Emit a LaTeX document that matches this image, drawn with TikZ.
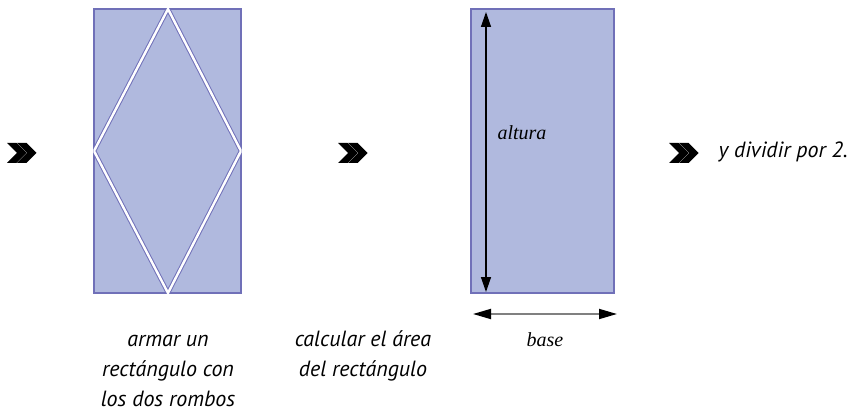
\documentclass[tikz,border=0pt]{standalone}
\usepackage{fontspec}
\setmainfont{Liberation Serif}
\newfontfamily\gillfont{PT Sans}
\usetikzlibrary{arrows.meta,calc}
\definecolor{rectfill}{RGB}{176,185,222}
\definecolor{rectedge}{RGB}{112,112,184}

\tikzset{
    panel/.style={fill=rectfill, draw=rectedge, line width=1.2pt},
    seam/.style={draw=rectedge, line width=1pt, double=white, double distance=2.4pt},
    caption/.style={font=\gillfont\itshape\fontsize{22}{30}\selectfont, align=center},
    hand/.style={font=\itshape\fontsize{20}{24}\selectfont},
    measure/.style={line width=1.4pt, {Triangle[length=15pt,width=10pt]}-{Triangle[length=15pt,width=10pt]}},
}

\begin{document}
\begin{tikzpicture}[x=1pt,y=-1pt]
    \useasboundingbox (0,0) rectangle (855,417);

    % rectangle cut into the rhombus pieces
    \coordinate (A) at (94,9);
    \coordinate (B) at (241,293);
    \coordinate (T) at (168,9);
    \coordinate (L) at (94,151);
    \coordinate (R) at (241,151);
    \coordinate (D) at (168,293);

    \draw[panel] (A) rectangle (B);
    \begin{scope}
        \clip ($(A)+(-0.6,-0.6)$) rectangle ($(B)+(0.6,0.6)$);
        \draw[seam] (T) -- (R) -- (D) -- (L) -- cycle;
    \end{scope}

    % rectangle with its measures
    \coordinate (P) at (471,9);
    \coordinate (Q) at (614,293);
    \coordinate (Htop) at (486,12);
    \coordinate (Hbot) at (486,292);
    \coordinate (Bl) at (473,314);
    \coordinate (Br) at (617,314);

    \draw[panel] (P) rectangle (Q);
    \draw[measure, black] (Htop) -- (Hbot);
    \draw[measure, gray, line width=1.8pt,
        {Triangle[length=18pt,width=10pt,color=black]}-{Triangle[length=18pt,width=10pt,color=black]}]
        (Bl) -- (Br);

    \node[hand, anchor=base west] (altura) at (494,140) {altura};
    \node[hand, anchor=base] (base) at (545,346) {base};

    % chevrons
    \foreach \cx in {7,338,669}
        \foreach \dx in {0,10}
            \fill[shift={(\cx+\dx,153)}]
                (0,-10) -- (9.5,-10) -- (19.5,0) -- (9.5,10) -- (0,10) -- (10,0) -- cycle;

    \node[caption, anchor=base] (armar) at (168,406)
        {armar un\\rectángulo con\\los dos rombos};
    \node[caption, anchor=base] (calcular) at (363,376)
        {calcular el área\\del rectángulo};
    \node[caption, anchor=base west] (dividir) at (715,158) {y dividir por 2.};
\end{tikzpicture}
\end{document}
